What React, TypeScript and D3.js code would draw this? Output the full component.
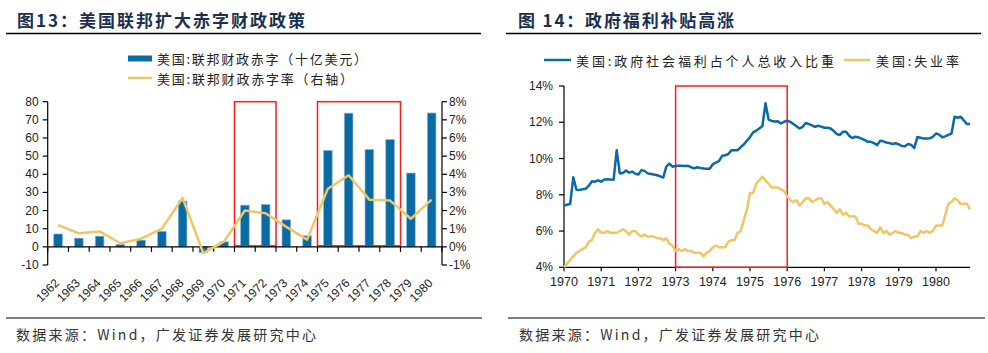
import React from "react";
import * as d3 from "d3";

// ---------- Left chart data ----------
const years = ["1962","1963","1964","1965","1966","1967","1968","1969","1970","1971","1972","1973","1974","1975","1976","1977","1978","1979","1980"];
const deficit = [7.1, 4.8, 5.9, 1.4, 3.7, 8.6, 25.2, -3.2, 2.8, 23.0, 23.4, 14.9, 6.1, 53.2, 73.7, 53.7, 59.2, 40.7, 73.8];
const deficitRate = [1.2, 0.75, 0.85, 0.2, 0.45, 1.0, 2.7, -0.35, 0.3, 2.0, 1.85, 1.1, 0.4, 3.2, 3.95, 2.6, 2.55, 1.55, 2.6];
const leftTicks = [-10, 0, 10, 20, 30, 40, 50, 60, 70, 80];
const rightTicks = [-1, 0, 1, 2, 3, 4, 5, 6, 7, 8];
const boxesLeft = [["1971", "1972"], ["1975", "1978"]];

// ---------- Right chart data (monthly, Jan 1970 - Dec 1980) ----------
const welfareShare = [
  7.41, 7.45, 7.5, 8.97, 8.28, 8.27, 8.3, 8.33, 8.5, 8.75, 8.72, 8.8,
  8.72, 8.84, 8.86, 8.84, 8.83, 10.45, 9.18, 9.2, 9.34, 9.22, 9.28, 9.16,
  9.12, 9.36, 9.32, 9.18, 9.15, 9.12, 9.08, 9.02, 8.95, 9.55, 9.72, 9.55,
  9.59, 9.6, 9.6, 9.59, 9.6, 9.52, 9.46, 9.52, 9.48, 9.45, 9.44, 9.44,
  9.68, 9.78, 9.86, 10.15, 10.18, 10.25, 10.45, 10.45, 10.46, 10.62, 10.78, 10.98,
  11.18, 11.44, 11.54, 11.66, 11.79, 13.05, 12.15, 12.07, 12.04, 12.05, 11.93, 12.03,
  12.09, 12.02, 11.9, 11.78, 11.66, 11.75, 11.96, 11.9, 11.83, 11.75, 11.81, 11.76,
  11.7, 11.7, 11.66, 11.52, 11.35, 11.3, 11.48, 11.48, 11.25, 11.13, 11.2, 11.17,
  11.1, 11.02, 10.92, 10.92, 10.85, 10.74, 10.98, 10.95, 10.88, 10.85, 10.8, 10.84,
  10.78, 10.69, 10.68, 10.8, 10.75, 10.58, 11.19, 11.15, 11.1, 11.1, 11.12, 11.2,
  11.38, 11.32, 11.17, 11.22, 11.3, 11.38, 12.3, 12.25, 12.3, 12.1, 11.9, 11.9,
];
const unemployment = [
  4.0, 4.2, 4.4, 4.6, 4.8, 4.9, 5.0, 5.1, 5.4, 5.5, 5.9, 6.1,
  5.9, 5.9, 6.0, 5.9, 5.9, 5.9, 6.0, 6.1, 6.0, 5.8, 6.0, 6.0,
  5.8, 5.7, 5.8, 5.7, 5.7, 5.7, 5.6, 5.6, 5.5, 5.6, 5.3, 5.2,
  4.9, 5.0, 4.9, 5.0, 4.9, 4.9, 4.8, 4.8, 4.8, 4.6, 4.8, 4.9,
  5.1, 5.2, 5.1, 5.1, 5.1, 5.4, 5.5, 5.5, 5.9, 6.0, 6.6, 7.2,
  8.1, 8.1, 8.6, 8.8, 9.0, 8.8, 8.6, 8.4, 8.4, 8.4, 8.3, 8.2,
  7.9, 7.7, 7.6, 7.7, 7.4, 7.6, 7.8, 7.8, 7.6, 7.7, 7.8, 7.8,
  7.5, 7.6, 7.4, 7.2, 7.0, 7.2, 6.9, 7.0, 6.8, 6.8, 6.8, 6.4,
  6.4, 6.3, 6.3, 6.1, 6.0, 5.9, 6.2, 5.9, 6.0, 5.8, 5.9, 6.0,
  5.9, 5.9, 5.8, 5.8, 5.6, 5.7, 5.7, 6.0, 5.9, 6.0, 5.9, 6.0,
  6.3, 6.3, 6.3, 6.9, 7.5, 7.6, 7.8, 7.7, 7.5, 7.5, 7.5, 7.2,
];
const startYear = 1970;
const yearTicks = [1970, 1971, 1972, 1973, 1974, 1975, 1976, 1977, 1978, 1979, 1980];
const pctTicks = [4, 6, 8, 10, 12, 14];
const boxRight = [1973, 1976];

const BLUE = "#0a6aa3";
const YELLOW = "#efc664";
const RED = "#ff1a1a";
const TITLE = "#1b3050";
const NUM_FONT = "'Liberation Sans', Arial, sans-serif";
const CJK_FONT = "'Noto Sans CJK SC', sans-serif";

function LeftChart() {
  const x = d3.scaleBand<string>().domain(years).range([47.7, 442]).paddingInner(0.58).paddingOuter(0.29);
  const yL = d3.scaleLinear().domain([-10, 80]).range([265, 101.7]);
  const yR = d3.scaleLinear().domain([-1, 8]).range([265, 101.7]);
  const step = x.step();
  const x0 = 47.7;
  const cx = (c: string) => (x(c) as number) + x.bandwidth() / 2;
  const line = d3.line<number>().x((_, i) => cx(years[i])).y((d) => yR(d));
  const boundaries = d3.range(years.length + 1).map((i) => x0 + i * step);
  return (
    <g>
      <text x={17} y={19} fontFamily={CJK_FONT} fontWeight="bold" fontSize={17} fill={TITLE} dominantBaseline="central" textLength={288} lengthAdjust="spacing">图13：美国联邦扩大赤字财政政策</text>
      <line x1={6} x2={481} y1={33.5} y2={33.5} stroke="#000" strokeWidth={1.5} />
      {/* legend */}
      <rect x={128} y={55.5} width={24} height={6} fill={BLUE} />
      <text x={157} y={58.5} fontFamily={CJK_FONT} fontSize={13} fill="#222" dominantBaseline="central" textLength={210} lengthAdjust="spacing">美国:联邦财政赤字（十亿美元）</text>
      <line x1={128} x2={152} y1={78} y2={78} stroke={YELLOW} strokeWidth={2.5} />
      <text x={157} y={78} fontFamily={CJK_FONT} fontSize={13} fill="#222" dominantBaseline="central" textLength={196} lengthAdjust="spacing">美国:联邦财政赤字率（右轴）</text>
      {/* bars */}
      {deficit.map((v, i) => (
        <rect key={years[i]} x={x(years[i])} width={x.bandwidth()} y={Math.min(yL(v), yL(0))} height={Math.abs(yL(v) - yL(0))} fill={BLUE} stroke="#8fbde0" strokeWidth={0.7} />
      ))}
      {/* red boxes */}
      {boxesLeft.map(([a, b]) => (
        <rect key={a} x={x(a)! - (step - x.bandwidth()) / 2} y={yL(80)} width={(x(b)! + x.bandwidth() + (step - x.bandwidth()) / 2) - (x(a)! - (step - x.bandwidth()) / 2)} height={yL(0) - 1 - yL(80)} fill="none" stroke={RED} strokeWidth={1.5} />
      ))}
      {/* axes */}
      <line x1={x0} x2={x0} y1={yL(80)} y2={yL(-10)} stroke="#000" strokeWidth={1.2} />
      {leftTicks.map((t) => (
        <g key={t}>
          <line x1={x0 - 5} x2={x0} y1={yL(t)} y2={yL(t)} stroke="#000" strokeWidth={1.2} />
          <text x={x0 - 9} y={yL(t)} textAnchor="end" dominantBaseline="central" fontFamily={NUM_FONT} fontSize={12} fill="#222">{t}</text>
        </g>
      ))}
      <line x1={442} x2={442} y1={yR(8)} y2={yR(-1)} stroke="#000" strokeWidth={1.2} />
      {rightTicks.map((t) => (
        <g key={t}>
          <line x1={442} x2={447} y1={yR(t)} y2={yR(t)} stroke="#000" strokeWidth={1.2} />
          <text x={449} y={yR(t)} textAnchor="start" dominantBaseline="central" fontFamily={NUM_FONT} fontSize={12} fill="#222">{t}%</text>
        </g>
      ))}
      <line x1={x0} x2={442} y1={yL(0)} y2={yL(0)} stroke="#000" strokeWidth={1.2} />
      {boundaries.map((b, i) => (
        <line key={i} x1={b} x2={b} y1={yL(0)} y2={yL(0) + 5} stroke="#000" strokeWidth={1.2} />
      ))}
      <path d={line(deficitRate) || ""} fill="none" stroke={YELLOW} strokeWidth={2.5} strokeLinejoin="round" />
      {years.map((c) => (
        <text key={c} transform={`translate(${cx(c) - 1},${281}) rotate(-45)`} textAnchor="end" dominantBaseline="central" fontFamily={NUM_FONT} fontSize={12} fill="#222">{c}</text>
      ))}
      {/* footer */}
      <line x1={6} x2={482} y1={318} y2={318} stroke="#000" strokeWidth={1.2} />
      <text x={16} y={334} fontFamily={CJK_FONT} fontSize={14} fill="#333" dominantBaseline="central" textLength={300} lengthAdjust="spacing">数据来源：Wind，广发证券发展研究中心</text>
    </g>
  );
}

function RightChart() {
  const x = d3.scaleLinear().domain([1970, 1981]).range([564, 564 + 11 * 37.2]);
  const y = d3.scaleLinear().domain([4, 14]).range([267.3, 86]);
  const t = (i: number) => startYear + i / 12;
  const line = d3.line<number>().x((_, i) => x(t(i))).y((d) => y(d));
  const xEnd = x(t(welfareShare.length - 1));
  return (
    <g>
      <text x={518} y={19} fontFamily={CJK_FONT} fontWeight="bold" fontSize={17} fill={TITLE} dominantBaseline="central" textLength={216} lengthAdjust="spacing">图 14：政府福利补贴高涨</text>
      <line x1={506} x2={981} y1={33.5} y2={33.5} stroke="#000" strokeWidth={1.5} />
      <line x1={544} x2={571} y1={60} y2={60} stroke={BLUE} strokeWidth={2.5} />
      <text x={576} y={60} fontFamily={CJK_FONT} fontSize={13} fill="#222" dominantBaseline="central" textLength={258} lengthAdjust="spacing">美国:政府社会福利占个人总收入比重</text>
      <line x1={844} x2={870} y1={60} y2={60} stroke={YELLOW} strokeWidth={2.5} />
      <text x={876} y={60} fontFamily={CJK_FONT} fontSize={13} fill="#222" dominantBaseline="central" textLength={83} lengthAdjust="spacing">美国:失业率</text>
      {/* axes */}
      <line x1={564} x2={564} y1={y(14)} y2={y(4)} stroke="#000" strokeWidth={1.2} />
      {pctTicks.map((p) => (
        <g key={p}>
          <line x1={559} x2={564} y1={y(p)} y2={y(p)} stroke="#000" strokeWidth={1.2} />
          <text x={553} y={y(p)} textAnchor="end" dominantBaseline="central" fontFamily={NUM_FONT} fontSize={12} fill="#222">{p}%</text>
        </g>
      ))}
      <line x1={564} x2={xEnd} y1={y(4)} y2={y(4)} stroke="#000" strokeWidth={1.2} />
      {yearTicks.map((yr) => (
        <g key={yr}>
          <line x1={x(yr)} x2={x(yr)} y1={y(4)} y2={y(4) + 4} stroke="#000" strokeWidth={1.2} />
          <text x={x(yr)} y={282} textAnchor="middle" dominantBaseline="central" fontFamily={NUM_FONT} fontSize={12.5} fill="#222">{yr}</text>
        </g>
      ))}
      <rect x={x(boxRight[0])} y={y(14)} width={x(boxRight[1]) - x(boxRight[0])} height={y(4) - y(14)} fill="none" stroke={RED} strokeWidth={1.5} />
      <path d={line(unemployment) || ""} fill="none" stroke={YELLOW} strokeWidth={2.5} strokeLinejoin="round" />
      <path d={line(welfareShare) || ""} fill="none" stroke={BLUE} strokeWidth={2.5} strokeLinejoin="round" />
      <line x1={508} x2={985} y1={318} y2={318} stroke="#000" strokeWidth={1.2} />
      <text x={519} y={334} fontFamily={CJK_FONT} fontSize={14} fill="#333" dominantBaseline="central" textLength={300} lengthAdjust="spacing">数据来源：Wind，广发证券发展研究中心</text>
    </g>
  );
}

export default function App() {
  return (
    <svg width={988} height={353} style={{ position: "absolute", left: 0, top: 0, background: "#fff" }}>
      <rect width={988} height={353} fill="#fff" />
      <LeftChart />
      <RightChart />
    </svg>
  );
}
